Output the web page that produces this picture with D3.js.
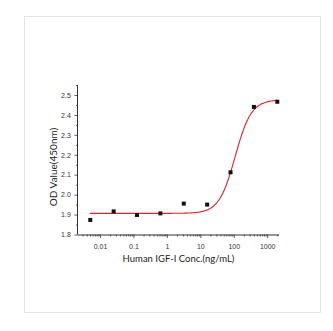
<!DOCTYPE html>
<html>
<head>
<meta charset="utf-8">
<script src="https://cdn.jsdelivr.net/npm/d3@7"></script>
<style>
  body { margin: 0; background: #fff; }
  svg { display: block; font-family: Lato, "Open Sans", sans-serif; }
</style>
</head>
<body>
<div id="chart"></div>
<script>
// measured points
const conc = [0.00512, 0.0256, 0.128, 0.64, 3.2, 16, 80, 400, 2000]
const od = [1.873, 1.916, 1.898, 1.906, 1.955, 1.950, 2.112, 2.440, 2.466]

// 4PL fit
const fitBottom = 1.906
const fitTop = 2.476
const fitEC50 = 110
const fitHill = 1.8

const xTickValues = [0.01, 0.1, 1, 10, 100, 1000]
const xTickLabels = ['0.01', '0.1', '1', '10', '100', '1000']
const yTickValues = [1.8, 1.9, 2.0, 2.1, 2.2, 2.3, 2.4, 2.5]

const W = 333, H = 331
const plot = { left: 78, right: 279, top: 85, bottom: 234.5 }

const svg = d3.select('#chart').append('svg')
  .attr('width', W)
  .attr('height', H)

// light frame round the figure
svg.append('rect')
  .attr('x', 24.5).attr('y', 16.5)
  .attr('width', 296).attr('height', 296)
  .attr('fill', 'none')
  .attr('stroke', '#e6e6e6')
  .attr('stroke-width', 1)

const x = d3.scaleLog()
  .domain([0.0022, 2250])
  .range([plot.left, plot.right])

const y = d3.scaleLinear()
  .domain([1.8, 2.55])
  .range([plot.bottom, plot.top])

// x axis with log minor ticks
const xMinor = []
for (let e = -3; e <= 3; e++) {
  for (let m = 2; m <= 9; m++) {
    const v = m * Math.pow(10, e)
    if (v >= x.domain()[0] && v <= x.domain()[1]) xMinor.push(v)
  }
}

const gx = svg.append('g').attr('transform', `translate(0,${plot.bottom})`)
gx.call(d3.axisBottom(x).tickValues(xMinor).tickSize(2).tickFormat(''))
gx.call(g => g.select('.domain').remove())
const gxMajor = svg.append('g').attr('transform', `translate(0,${plot.bottom})`)
  .call(d3.axisBottom(x).tickValues(xTickValues).tickSize(3.5)
    .tickFormat((d, i) => xTickLabels[i]).tickSizeOuter(0))
gxMajor.select('.domain').attr('d', `M${plot.left},0.5H${plot.right}`)

// y axis with minor ticks at the halves
const yMinor = yTickValues.slice(0, -1).map(v => v + 0.05).concat([2.55])
const gy = svg.append('g').attr('transform', `translate(${plot.left},0)`)
gy.call(d3.axisLeft(y).tickValues(yMinor).tickSize(2).tickFormat(''))
gy.call(g => g.select('.domain').remove())
const gyMajor = svg.append('g').attr('transform', `translate(${plot.left},0)`)
  .call(d3.axisLeft(y).tickValues(yTickValues).tickSize(3.5)
    .tickFormat(d3.format('.1f')).tickSizeOuter(0))
gyMajor.select('.domain').attr('d', `M-0.5,${plot.bottom}V${plot.top}`)

svg.selectAll('.domain').attr('stroke', '#333').attr('stroke-width', 1)
svg.selectAll('.tick line').attr('stroke', '#333').attr('stroke-width', 0.8)
svg.selectAll('.tick text')
  .attr('fill', '#333')
  .style('font-size', '7px')
gxMajor.selectAll('.tick text').attr('dy', '1.1em')
gyMajor.selectAll('.tick text').attr('dx', '-0.1em')

// fitted curve
const fit = c => fitBottom + (fitTop - fitBottom) / (1 + Math.pow(fitEC50 / c, fitHill))
const curveX = d3.range(Math.log10(0.005), Math.log10(2000) + 0.001, 0.02).map(l => Math.pow(10, l))

svg.append('path')
  .datum(curveX)
  .attr('fill', 'none')
  .attr('stroke', '#e0202a')
  .attr('stroke-width', 1.1)
  .attr('d', d3.line().x(d => x(d)).y(d => y(fit(d))).curve(d3.curveMonotoneX))

// data points
svg.selectAll('rect.pt')
  .data(conc)
  .enter()
  .append('rect')
  .attr('class', 'pt')
  .attr('x', d => x(d) - 2)
  .attr('y', (d, i) => y(od[i]) - 2)
  .attr('width', 4)
  .attr('height', 4)
  .attr('fill', '#111')

// axis titles
svg.append('text')
  .attr('x', (plot.left + plot.right) / 2)
  .attr('y', 262)
  .attr('text-anchor', 'middle')
  .attr('fill', '#222')
  .style('font-size', '9.5px')
  .text('Human IGF-I Conc.(ng/mL)')

svg.append('text')
  .attr('transform', `translate(57,167) rotate(-90)`)
  .attr('text-anchor', 'middle')
  .attr('fill', '#222')
  .style('font-size', '10px')
  .text('OD Value(450nm)')
</script>
</body>
</html>
